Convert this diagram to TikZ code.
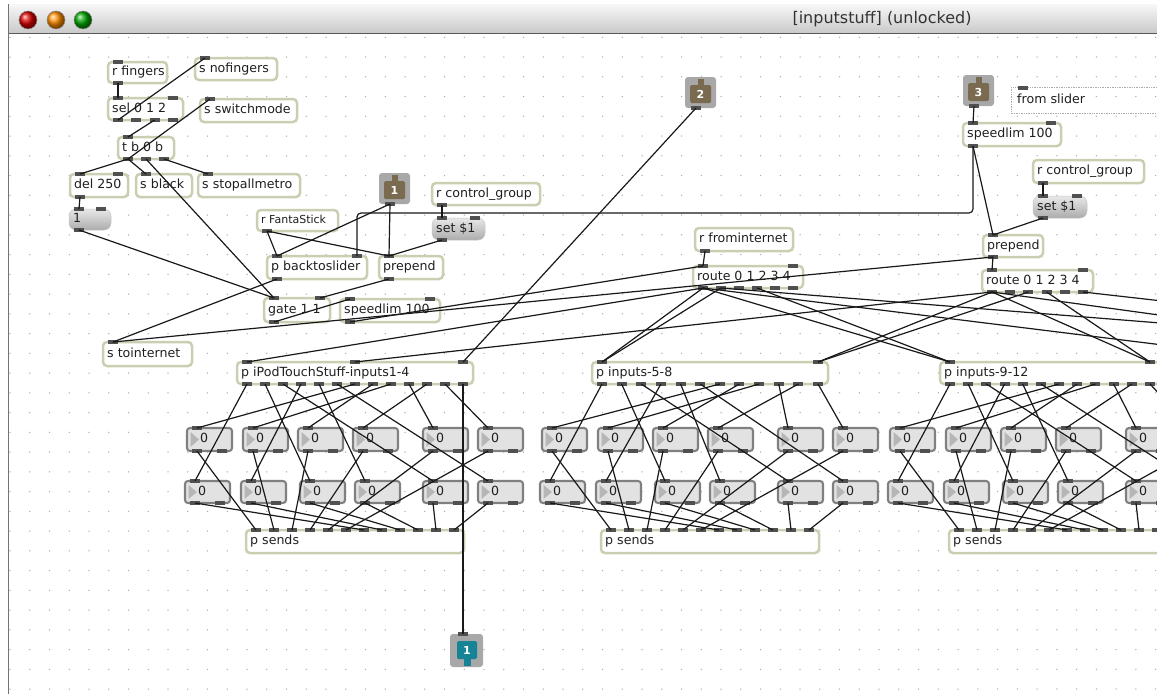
\documentclass[tikz,border=0pt]{standalone}
\usepackage{fontspec}
\setmainfont{DejaVu Sans}
\usetikzlibrary{calc}
\definecolor{objborder}{RGB}{203,207,178}
\definecolor{portc}{RGB}{80,80,80}
\definecolor{msgtop}{RGB}{232,232,232}
\definecolor{msgbot}{RGB}{172,172,172}
\definecolor{numbg}{RGB}{226,226,226}
\definecolor{numbd}{RGB}{128,128,128}
\definecolor{numtri}{RGB}{182,182,182}
\definecolor{tabbg}{RGB}{168,168,168}
\definecolor{inletc}{RGB}{122,106,80}
\definecolor{outletc}{RGB}{22,132,150}
\definecolor{gridc}{RGB}{175,175,175}
\definecolor{cordc}{RGB}{25,25,25}
\newcommand\objfont{\fontsize{12.6}{14}\selectfont}
\newcommand\smallobjfont{\fontsize{11}{13}\selectfont}
\tikzset{
 mxbox/.style={draw=objborder, line width=2.5pt, fill=white, rounded corners=4pt},
 mxmsg/.style={top color=msgtop, bottom color=msgbot, draw=gray!45, line width=0.5pt, rounded corners=7pt},
 mxnumbox/.style={draw=numbd, line width=2.1pt, fill=numbg, rounded corners=3pt},
 mxtext/.style={anchor=west, inner sep=0pt, font=\objfont, text height=9.2pt, text depth=2.6pt, text=black!88},
 cord/.style={draw=cordc, line width=1.2pt},
}
% ports: name, x, y(edge), w, n, tag
\newcommand{\mxports}[6]{%
  \ifnum#5>0\relax
    \foreach \mxk in {1,...,#5}{%
      \ifnum#5=1\relax
        \pgfmathsetmacro\mxpx{#2+10}%
      \else
        \pgfmathsetmacro\mxpx{#2+10+(\mxk-1)*(#4-20)/(#5-1)}%
      \fi
      \coordinate (#1-#6\mxk) at ({\mxpx},{#3});
      \fill[portc] ({\mxpx-5},{#3-1.6}) rectangle ++(10,3.2);
    }%
  \fi
}
% object: [style] name, x, y, w, h, text, nin, nout
\newcommand{\mxobj}[9][mxbox]{%
  \path[#1] ({#3},{#4}) rectangle ++(#5,#6);
  \node[mxtext] (#2) at ({#3+4},{#4+#6/2}) {#7};
  \mxports{#2}{#3}{#4}{#5}{#8}{i}%
  \mxports{#2}{#3}{#4+#6}{#5}{#9}{o}%
}
% number box: name, x, y, h
\newcommand{\mxnum}[4]{%
  \path[mxnumbox] ({#2},{#3}) rectangle ++(45,#4);
  \fill[numtri] ({#2+3.5},{#3+4}) -- ({#2+3.5},{#3+#4-4}) -- ({#2+12},{#3+#4/2}) -- cycle;
  \node[mxtext] (#1) at ({#2+13},{#3+#4/2}) {0};
  \mxports{#1}{#2}{#3}{45}{1}{i}%
  \mxports{#1}{#2}{#3+#4}{45}{2}{o}%
}
% inlet tab: name, x, y, label
\newcommand{\mxinlet}[4]{%
  \fill[tabbg, rounded corners=3pt] ({#2},{#3}) rectangle ++(31,31);
  \fill[inletc, rounded corners=1.5pt] ({#2+5},{#3+8}) rectangle ++(21,18);
  \fill[inletc] ({#2+12.5},{#3+1.5}) rectangle ++(6,8);
  \node[font=\bfseries\fontsize{11}{12}\selectfont, text=white, inner sep=0pt] (#1) at ({#2+15.5},{#3+17}) {#4};
  \mxports{#1}{#2+1}{#3+31}{31}{1}{o}%
}
% outlet tab: name, x, y, label
\newcommand{\mxoutlet}[4]{%
  \fill[tabbg, rounded corners=3pt] ({#2},{#3}) rectangle ++(33,33);
  \fill[outletc, rounded corners=1.5pt] ({#2+7},{#3+7}) rectangle ++(20,18);
  \fill[outletc] ({#2+13.5},{#3+24}) rectangle ++(7,8);
  \node[font=\bfseries\fontsize{11}{12}\selectfont, text=white, inner sep=0pt] (#1) at ({#2+17},{#3+16}) {#4};
  \mxports{#1}{#2+3}{#3}{33}{1}{i}%
}
% block: prefix, dx, nout, boxw, label, nin
\newcommand{\mxblock}[6]{%
  \mxobj{#1box}{237+#2}{362}{#4}{22}{#5}{#6}{#3}%
  \foreach \bk/\bx in {1/187,2/243,3/298,4/353,5/423,6/478}{%
    \mxnum{#1N\bk}{\bx+#2}{428}{23}%
  }%
  \foreach \bk/\bx in {1/185,2/241,3/300,4/355,5/423,6/478}{%
    \mxnum{#1M\bk}{\bx+#2}{481}{22}%
  }%
  \mxobj{#1S}{246+#2}{530}{218}{23}{p sends}{12}{0}%
}
\newcommand{\mxblockcords}[1]{%
  \foreach \ca/\cb in {1/M1,2/M3,3/M5,4/M2,5/M4,6/M6,7/N1,8/N3,9/N2,10/N5,11/N4,12/N6}{\draw[cord] (#1box-o\ca) -- (#1\cb-i1);}%
  \foreach \ck in {1,...,6}{\draw[cord] (#1N\ck-o1) -- (#1S-i\ck);}%
  \foreach \ck [evaluate=\ck as \cs using int(\ck+6)] in {1,...,6}{\draw[cord] (#1M\ck-o1) -- (#1S-i\cs);}%
}
\begin{document}
\begin{tikzpicture}[x=1pt,y=-1pt]
\useasboundingbox (0,0) rectangle (1157,694);
\begin{scope}
\clip (0,0) rectangle (1157,694);
\fill[white] (0,0) rectangle (1157,694);
% grid
\foreach \gi in {0,...,58}{\foreach \gj in {1,...,35}{\fill[gridc] ({10+\gi*19.75},{17.5+\gj*19.75}) circle (0.75);}}
% window frame and title bar
\shade[top color=gray!6, bottom color=gray!42] (8,4) rectangle (1157,33);
\draw[black!65, line width=0.8pt] (8,33) -- (1157,33);
\draw[black!55, line width=0.8pt] (8,4) -- (8,694);
\shade[ball color=red!85!black] (28,20) circle (9);
\draw[black!45, line width=0.5pt] (28,20) circle (9);
\shade[ball color=orange!90!yellow] (56,20) circle (9);
\draw[black!45, line width=0.5pt] (56,20) circle (9);
\shade[ball color=green!65!black] (83,20) circle (9);
\draw[black!45, line width=0.5pt] (83,20) circle (9);
\node[font=\fontsize{16}{18}\selectfont, text=black!80] (title) at (882,19) {[inputstuff] (unlocked)};

% ---- left cluster objects
\mxobj{rfingers}{108}{62}{59}{21}{r fingers}{1}{1}
\mxobj{snofing}{195}{58}{82}{22}{s nofingers}{1}{0}
\mxobj{sel}{108}{98}{75}{22}{sel 0 1 2}{2}{4}
\mxobj{sswitch}{200}{99}{97}{23}{s switchmode}{1}{0}
\mxobj{tb}{118}{137}{56}{22}{t b 0 b}{1}{3}
\mxobj{del}{70}{174}{58}{23}{del 250}{2}{1}
\mxobj{sblack}{136}{174}{56}{23}{s black}{1}{0}
\mxobj{sstop}{198}{174}{102}{23}{s stopallmetro}{1}{0}
\mxobj[mxmsg]{msgone}{69}{209}{42}{21}{1}{2}{1}
\mxobj{rfanta}{257}{210}{81}{21}{\smallobjfont r FantaStick}{0}{1}
\mxinlet{inA}{379}{173}{1}
\mxobj{rcgA}{432}{183}{108}{22}{r control\_group}{0}{1}
\mxobj[mxmsg]{setA}{432}{218}{53}{22}{set \$1}{2}{1}
\mxobj{pback}{267}{256}{100}{23}{p backtoslider}{2}{1}
\mxobj{prepA}{379}{256}{64}{23}{prepend}{1}{1}
\mxobj{gate}{264}{298}{66}{24}{gate 1 1}{2}{1}
\mxobj{speedA}{340}{299}{100}{23}{speedlim 100}{2}{1}
\mxobj{stoint}{103}{342}{89}{24}{s tointernet}{1}{0}

% ---- right cluster objects
\mxinlet{inB}{685}{77}{2}
\mxinlet{inC}{963}{75}{3}
\draw[gray!65, densely dotted, line width=0.7pt] (1011,87) rectangle (1170,113);
\fill[portc] (1018,86.4) rectangle ++(10,3.2);
\node[mxtext] (fromsl) at (1017,100) {from slider};
\mxobj{speedB}{963}{123}{98}{23}{speedlim 100}{2}{1}
\mxobj{rcgB}{1033}{160}{111}{23}{r control\_group}{0}{1}
\mxobj[mxmsg]{setB}{1033}{196}{54}{22}{set \$1}{2}{1}
\mxobj{prepB}{983}{235}{60}{22}{prepend}{1}{1}
\mxobj{routeB}{982}{270}{111}{22}{route 0 1 2 3 4}{2}{6}
\mxobj{rfrom}{695}{228}{98}{23}{r frominternet}{0}{1}
\mxobj{routeA}{693}{266}{110}{22}{route 0 1 2 3 4}{2}{6}

% ---- blocks
\mxblock{a}{0}{13}{236}{p iPodTouchStuff-inputs1-4}{3}
\mxblock{b}{355}{12}{236}{p inputs-5-8}{2}
\mxblock{c}{703}{12}{220}{p inputs-9-12}{2}
\mxoutlet{outone}{450}{634}{1}

\coordinate (hl) at (0,213);
\coordinate (offA1) at (1300,362);
\coordinate (offA2) at (1650,362);
\coordinate (offB1) at (1500,362);
\coordinate (offB2) at (1700,362);

% ---- cords left
\draw[cord] (rfingers-o1) -- (sel-i1);
\draw[cord] (sel-o1) -- (snofing-i1);
\draw[cord] (sel-o3) -- (tb-i1);
\draw[cord] (tb-o1) -- (sswitch-i1);
\draw[cord] (tb-o1) -- (del-i1);
\draw[cord] (tb-o1) -- (sblack-i1);
\draw[cord] (tb-o2) -- (gate-i1);
\draw[cord] (tb-o3) -- (sstop-i1);
\draw[cord] (del-o1) -- (msgone-i1);
\draw[cord] (msgone-o1) -- (gate-i1);
\draw[cord] (rfanta-o1) -- (pback-i1);
\draw[cord] (rfanta-o1) -- (prepA-i1);
\draw[cord] (inA-o1) -- (pback-i1);
\draw[cord] (inA-o1) -- (prepA-i1);
\draw[cord] (rcgA-o1) -- (setA-i1);
\draw[cord] (setA-o1) -- (prepA-i1);
\draw[cord] (pback-o1) -- (stoint-i1);
\draw[cord] (prepA-o1) -- (gate-i2);
\draw[cord] (gate-o1) -- (speedA-i1);
\draw[cord] (speedA-o1) -- (routeA-i1);
\draw[cord, rounded corners=4pt] (speedB-o1) -- (speedB-o1 |- hl) -- (pback-i2 |- hl) -- (pback-i2);
\draw[cord] (prepB-o1) -- (stoint-i1);
% ---- cords right
\draw[cord] (inC-o1) -- (speedB-i1);
\draw[cord] (speedB-o1) -- (prepB-i1);
\draw[cord] (rcgB-o1) -- (setB-i1);
\draw[cord] (setB-o1) -- (prepB-i1);
\draw[cord] (prepB-o1) -- (routeB-i1);
\draw[cord] (rfrom-o1) -- (routeA-i1);
\draw[cord] (inB-o1) -- (abox-i3);
\draw[cord] (abox-o13) -- (outone-i1);
% ---- routes to blocks
\draw[cord] (routeA-o1) -- (abox-i1);
\draw[cord] (routeA-o1) -- (bbox-i1);
\draw[cord] (routeA-o2) -- (bbox-i1);
\draw[cord] (routeA-o1) -- (cbox-i1);
\draw[cord] (routeA-o4) -- (cbox-i1);
\draw[cord] (routeA-o1) -- (offA1);
\draw[cord] (routeA-o2) -- (offA2);
\draw[cord] (routeB-o1) -- (abox-i2);
\draw[cord] (routeB-o1) -- (bbox-i2);
\draw[cord] (routeB-o3) -- (bbox-i2);
\draw[cord] (routeB-o1) -- (cbox-i2);
\draw[cord] (routeB-o4) -- (cbox-i2);
\draw[cord] (routeB-o1) -- (offB1);
\draw[cord] (routeB-o6) -- (offB2);
% ---- block internals
\mxblockcords{a}
\mxblockcords{b}
\mxblockcords{c}
\end{scope}
\end{tikzpicture}
\end{document}
